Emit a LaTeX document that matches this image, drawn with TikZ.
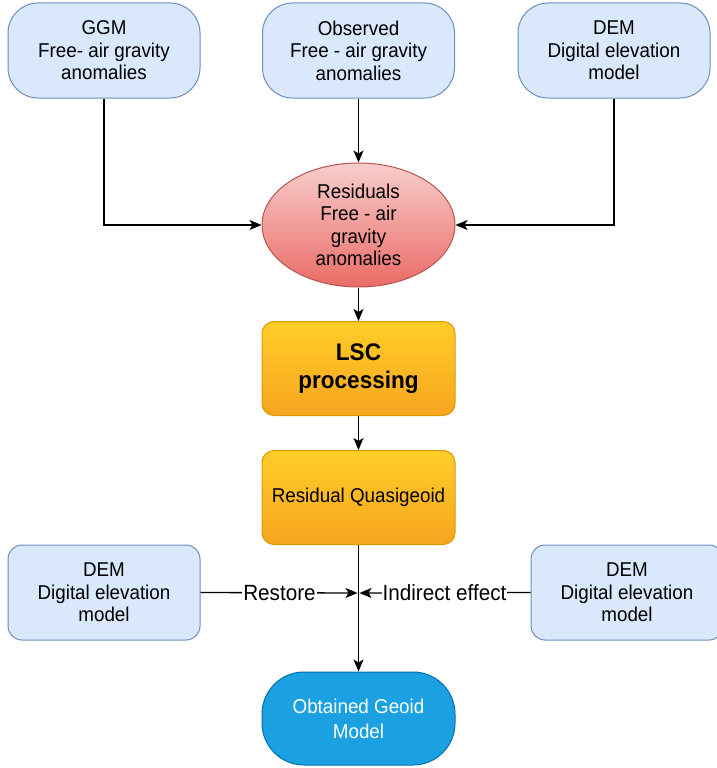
\documentclass[tikz,border=0pt]{standalone}
\usepackage{fontspec}
\setmainfont[FakeStretch=0.94]{Liberation Sans}
\usetikzlibrary{arrows.meta,shapes.geometric}

\definecolor{paleblue}{HTML}{DAE8FC}
\definecolor{paleblueline}{HTML}{6C8EBF}
\definecolor{redtop}{HTML}{F8CECC}
\definecolor{redbot}{HTML}{EA6B66}
\definecolor{redline}{HTML}{B85450}
\definecolor{orangetop}{HTML}{FFCD28}
\definecolor{orangebot}{HTML}{F7A51E}
\definecolor{orangeline}{HTML}{D79B00}
\definecolor{deepblue}{HTML}{1BA1E2}
\definecolor{deepblueline}{HTML}{006EAF}

\tikzset{
  bodytext/.style={font=\fontsize{20}{22.5}\selectfont},
  inputbox/.style={draw=paleblueline, fill=paleblue, line width=1pt,
    rounded corners=30pt, minimum width=192pt, minimum height=95pt,
    align=center, bodytext},
  sidebox/.style={draw=paleblueline, fill=paleblue, line width=1pt,
    rounded corners=14pt, minimum width=192pt, minimum height=95pt,
    align=center, bodytext},
  residual/.style={ellipse, draw=redline, top color=redtop, bottom color=redbot,
    line width=1pt, minimum width=193pt, minimum height=124pt, inner sep=0pt,
    align=center, bodytext},
  procbox/.style={draw=orangeline, top color=orangetop, bottom color=orangebot,
    line width=1pt, rounded corners=12pt, minimum width=193pt, minimum height=94pt,
    align=center},
  resultbox/.style={draw=deepblueline, fill=deepblue, line width=1pt,
    rounded corners=42pt, minimum width=193pt, minimum height=93pt,
    align=center, text=white, font=\fontsize{20}{25}\selectfont},
  flow/.style={line width=1.3pt, -{Stealth[length=12pt,width=10pt,inset=3pt]}},
  edgelabel/.style={fill=white, inner sep=1pt, font=\fontsize{22}{24}\selectfont}
}

\begin{document}
\begin{tikzpicture}[x=1pt,y=-1pt]
  \useasboundingbox (0,0) rectangle (716,768);

  % input data sets
  \node[inputbox] (ggm) at (104,50.5) {GGM\\Free- air gravity\\anomalies};
  \node[inputbox] (obs) at (358.5,50.5) {Observed\\Free - air gravity\\anomalies};
  \node[inputbox] (dem) at (614,50.5) {DEM\\Digital elevation\\model};

  % residual anomalies
  \node[residual] (res) at (358.5,225) {Residuals\\Free - air\\gravity\\anomalies};

  % processing chain
  \node[procbox, font=\bfseries\fontsize{24}{28}\selectfont] (lsc) at (358.5,368.5) {LSC\\processing};
  \node[procbox, bodytext] (rq) at (358.5,497.5) {Residual Quasigeoid};

  % restore step
  \node[sidebox] (demL) at (104,592.5) {DEM\\Digital elevation\\model};
  \node[sidebox] (demR) at (627,592.5) {DEM\\Digital elevation\\model};
  \node[resultbox] (geo) at (358.5,718.5) {Obtained Geoid\\Model};

  \coordinate (j) at (358.5,593);

  % connectors
  \draw[flow] (ggm.south) |- (res.west);
  \draw[flow] (obs.south) -- (res.north);
  \draw[flow] (dem.south) |- (res.east);
  \draw[flow] (res.south) -- (lsc.north);
  \draw[flow] (lsc.south) -- (rq.north);
  \draw[flow] (rq.south) -- (geo.north);
  \draw[flow, shorten >=1pt] (demL.east) -- node[edgelabel] {Restore} (j);
  \draw[flow, shorten >=1pt] (demR.west) -- node[edgelabel] {Indirect effect} (j);
\end{tikzpicture}
\end{document}
